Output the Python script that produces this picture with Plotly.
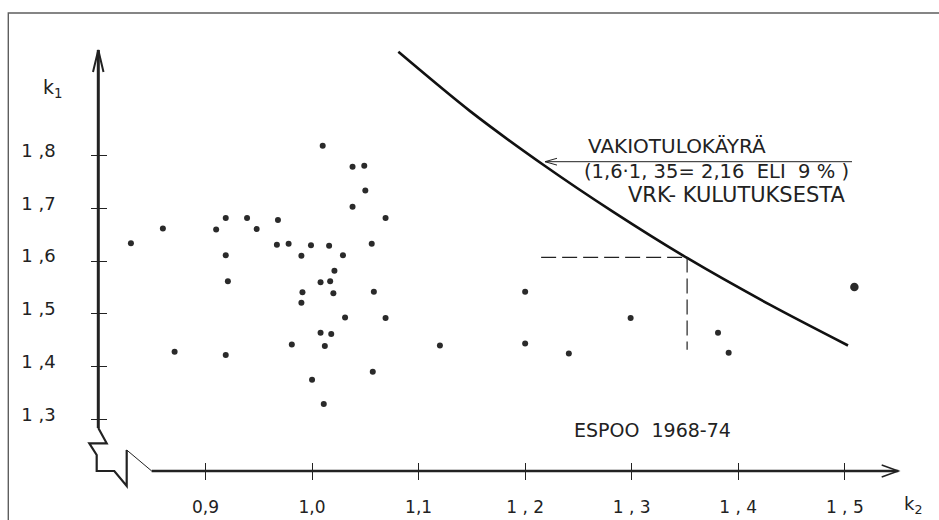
import plotly.graph_objects as go

# ---------------- data ----------------
k2_obs = [0.830, 0.860, 0.871, 0.910, 0.919, 0.919, 0.921, 0.919, 0.939, 0.948,
          0.968, 0.967, 0.978, 0.990, 0.999, 1.016, 1.029, 1.010, 1.038, 1.049,
          1.050, 1.038, 1.069, 1.056, 1.021, 1.008, 1.017, 0.991, 1.020, 0.990,
          1.031, 1.008, 1.018, 0.981, 1.012, 1.000, 1.011, 1.058, 1.069, 1.120,
          1.057, 1.200, 1.299, 1.200, 1.241, 1.381, 1.391]
k1_obs = [1.634, 1.662, 1.428, 1.660, 1.682, 1.611, 1.562, 1.422, 1.682, 1.661,
          1.678, 1.631, 1.633, 1.610, 1.630, 1.629, 1.611, 1.819, 1.779, 1.781,
          1.734, 1.703, 1.682, 1.633, 1.582, 1.560, 1.562, 1.541, 1.539, 1.521,
          1.493, 1.464, 1.462, 1.442, 1.439, 1.375, 1.329, 1.542, 1.492, 1.440,
          1.390, 1.542, 1.492, 1.444, 1.425, 1.464, 1.426]
k2_big = [1.509]
k1_big = [1.551]

# constant-product curve k1*k2 = 2.16
k2_curve = [1.081, 1.148, 1.219, 1.283, 1.352, 1.430, 1.503]
k1_curve = [1.997, 1.885, 1.780, 1.693, 1.606, 1.517, 1.440]

# guide (dashed) lines: k1 = 1.6 at k2 = 1.35
k2_guide_h = [1.215, 1.352]
k1_guide_h = [1.607, 1.607]
k2_guide_v = [1.352, 1.352]
k1_guide_v = [1.607, 1.432]

x_tickvals = [0.9, 1.0, 1.1, 1.2, 1.3, 1.4, 1.5]
x_ticktext = ["0,9", "1,0", "1,1", "1 , 2", "1 , 3", "1 , 4", "1 , 5"]
y_tickvals = [1.3, 1.4, 1.5, 1.6, 1.7, 1.8]
y_ticktext = ["1 ,3", "1 ,4", "1 ,5", "1 ,6", "1 ,7", "1 ,8"]

# ---------------- layout geometry ----------------
W, H = 939, 520
X_PX_09, X_SCALE = 205.5, 1065.5      # pixel of k2=0.9, pixels per unit
Y_PX_18, Y_SCALE = 155.7, 527.2       # pixel of k1=1.8, pixels per unit
X0 = 0.9 - X_PX_09 / X_SCALE
X1 = X0 + W / X_SCALE
Y1 = 1.8 + Y_PX_18 / Y_SCALE
Y0 = 1.8 - (H - Y_PX_18) / Y_SCALE

AXIS_X_PX = 98.3     # vertical axis line
AXIS_Y_PX = 471.0    # horizontal axis line

def fx(p):
    return p / W

def fy(p):
    return 1 - p / H

def path(pts):
    return "M " + " L ".join(f"{fx(a):.5f},{fy(b):.5f}" for a, b in pts)

INK = "#222222"
FONT = "DejaVu Sans"

fig = go.Figure()

fig.add_trace(go.Scatter(x=k2_curve, y=k1_curve, mode="lines",
                         line=dict(color="#111111", width=2.6, shape="spline", smoothing=0.8),
                         hoverinfo="skip", showlegend=False))
fig.add_trace(go.Scatter(x=k2_guide_h, y=k1_guide_h, mode="lines",
                         line=dict(color=INK, width=1.2, dash="15px,6px"),
                         hoverinfo="skip", showlegend=False))
fig.add_trace(go.Scatter(x=k2_guide_v, y=k1_guide_v, mode="lines",
                         line=dict(color=INK, width=1.2, dash="15px,6px"),
                         hoverinfo="skip", showlegend=False))
fig.add_trace(go.Scatter(x=k2_obs, y=k1_obs, mode="markers",
                         marker=dict(color="#2a2a2a", size=6, line=dict(width=0)),
                         showlegend=False))
fig.add_trace(go.Scatter(x=k2_big, y=k1_big, mode="markers",
                         marker=dict(color="#2a2a2a", size=8.5, line=dict(width=0)),
                         showlegend=False))
# dummy trace to create the overlay axes that draw the upper/right halves of ticks
fig.add_trace(go.Scatter(x=[None], y=[None], xaxis="x2", yaxis="y2",
                         hoverinfo="skip", showlegend=False))

def pshape(pts, color=INK, width=1.0):
    return dict(type="path", xref="paper", yref="paper", path=path(pts),
                line=dict(color=color, width=width), layer="above")

shapes = [
    # frame
    pshape([(8.3, 520), (8.3, 13), (939, 13)], "#5e5e5e", 1.4),
    # vertical axis
    pshape([(AXIS_X_PX, 50), (AXIS_X_PX, 428)], INK, 3),
    # axis break zigzag
    pshape([(AXIS_X_PX, 428), (106.7, 443.3), (89.3, 443.3), (96.7, 455),
            (96.7, AXIS_Y_PX), (114.3, AXIS_Y_PX), (126.7, 486), (126.7, 450)], INK, 2.2),
    pshape([(126.7, 450), (151.7, AXIS_Y_PX)], INK, 1),
    # horizontal axis
    pshape([(151.7, AXIS_Y_PX), (898.3, AXIS_Y_PX)], INK, 2.5),
    # arrowheads
    pshape([(881.7, 465), (898.3, AXIS_Y_PX), (881.7, 477)], INK, 1.5),
    pshape([(93, 72), (AXIS_X_PX, 50), (103.5, 72)], INK, 2),
    # leader line with arrow
    pshape([(852, 161.7), (545, 161.7)], INK, 1),
    pshape([(557, 158.3), (545, 161.7), (557, 165.1)], INK, 1),
]

def note(text, x, y, xanchor="center", size=20):
    return dict(text=text, x=fx(x), y=fy(y), xref="paper", yref="paper",
                xanchor=xanchor, yanchor="middle", showarrow=False,
                font=dict(family=FONT, size=size, color=INK))

NB = "\u00a0"
annotations = [
    note("VAKIOTULOKÄYRÄ", 586, 146, "left"),
    note("(1,6·1," + NB + "35=" + NB + "2,16" + NB * 2 + "ELI" + NB * 2 + "9" + NB + "%" + NB + ")",
         582, 171.5, "left", 19.5),
    note("VRK-" + NB + "KULUTUKSESTA", 847, 195, "right", 21),
    note("ESPOO" + NB * 2 + "1968-74", 652, 430, "center", 19),
    note("k<sub>1</sub>", 52, 88, "center", 19),
    note("k<sub>2</sub>", 913, 505, "center", 18),
]

tickfont = dict(family=FONT, size=17, color=INK)
fig.update_layout(
    width=W, height=H, margin=dict(l=0, r=0, t=0, b=0),
    paper_bgcolor="white", plot_bgcolor="white",
    xaxis=dict(domain=[0, 1], range=[X0, X1], anchor="free", position=fy(AXIS_Y_PX),
               tickmode="array", tickvals=x_tickvals, ticktext=x_ticktext,
               ticks="outside", ticklen=8, tickwidth=1.4, tickcolor=INK,
               showline=False, showgrid=False, zeroline=False,
               tickfont=tickfont, ticklabelstandoff=13),
    xaxis2=dict(overlaying="x", matches="x", anchor="free", position=fy(AXIS_Y_PX),
                tickmode="array", tickvals=x_tickvals,
                ticks="inside", ticklen=8, tickwidth=1.4, tickcolor=INK,
                showticklabels=False, showline=False, showgrid=False, zeroline=False),
    yaxis=dict(domain=[0, 1], range=[Y0, Y1], anchor="free", position=fx(AXIS_X_PX),
               tickmode="array", tickvals=y_tickvals, ticktext=y_ticktext,
               ticks="outside", ticklen=7, tickwidth=1.4, tickcolor=INK,
               showline=False, showgrid=False, zeroline=False,
               tickfont=dict(family=FONT, size=18, color=INK),
               ticklabelstandoff=32, ticklabelshift=-5),
    yaxis2=dict(overlaying="y", matches="y", anchor="free", position=fx(AXIS_X_PX),
                tickmode="array", tickvals=y_tickvals,
                ticks="inside", ticklen=8, tickwidth=1.4, tickcolor=INK,
                showticklabels=False, showline=False, showgrid=False, zeroline=False),
    shapes=shapes, annotations=annotations,
)

fig.write_html("out.html")
